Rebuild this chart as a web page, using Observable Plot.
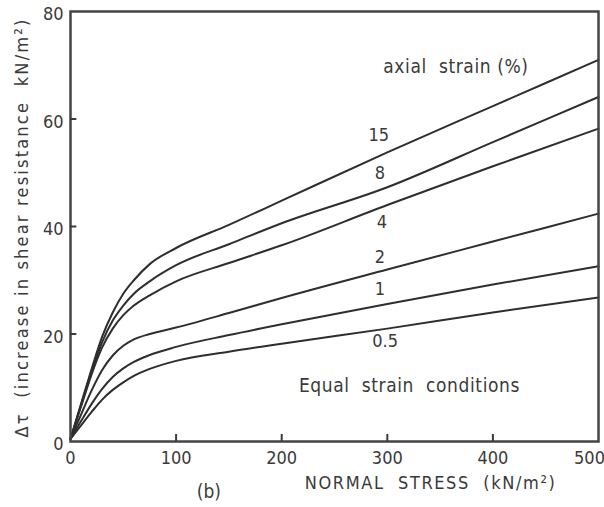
<!DOCTYPE html>
<html>
<head>
<meta charset="utf-8">
<script src="https://cdn.jsdelivr.net/npm/d3@7"></script>
<script src="https://cdn.jsdelivr.net/npm/@observablehq/plot@0.6"></script>
<style>
  html, body { margin: 0; padding: 0; background: #fff; }
  #chart svg { display: block; }
</style>
</head>
<body>
<div id="chart"></div>
<script>
const stress = [0, 10, 20, 30, 40, 50, 60, 75, 100, 150, 200, 300, 400, 500];
const s15  = [0.5, 7, 13.5, 19.5, 24, 27.5, 30, 33, 36, 40.3, 44.8, 53.8, 62.4, 71];
const s8   = [0.5, 6.8, 13, 18.5, 22.5, 25.3, 27.5, 29.8, 32.8, 36.7, 40.6, 47.3, 55.7, 64.1];
const s4   = [0.5, 6.5, 12.5, 17.5, 21, 23.5, 25.3, 27.2, 29.8, 33.2, 36.5, 44, 51.2, 58.2];
const s2   = [0.5, 5, 9.5, 13.3, 16, 17.8, 19, 20, 21.2, 23.9, 26.7, 32, 37.2, 42.4];
const s1   = [0.5, 3.8, 7, 9.8, 12, 13.6, 14.8, 16.1, 17.6, 19.8, 21.8, 25.6, 29.2, 32.6];
const s05  = [0.5, 3, 5.5, 7.8, 9.6, 11, 12.2, 13.5, 15, 16.7, 18.2, 21, 24, 26.8];

const seriesNames = ["15", "8", "4", "2", "1", "0.5"];
const seriesValues = [s15, s8, s4, s2, s1, s05];

const xTicks = [0, 100, 200, 300, 400];
const xLastTick = [500];
const xInnerTicks = [100, 200, 300, 400];
const yTicks = [0, 20, 40, 60, 80];
const yInnerTicks = [20, 40, 60];

// curve labels: [text, stress, value]
const curveLabels = [
  ["15", 292, 56.9],
  ["8", 293, 50.0],
  ["4", 295, 40.8],
  ["2", 293, 34.3],
  ["1", 293, 28.3],
  ["0.5", 298, 18.6]
];
const notesTexts = ["axial  strain (%)", "Equal  strain  conditions"];
const notesX = [365, 321];
const notesY = [69.7, 10.3];
const bText = "(b)";
const xLabelText = "NORMAL  STRESS  (kN/m²)";
const yLabelText = "Δτ  (increase in shear resistance  kN/m²)";

const rows = seriesNames.flatMap((name, i) =>
  stress.map((s, j) => ({series: name, x: s, y: seriesValues[i][j]}))
);
const labelRows = curveLabels.map(([text, x, y]) => ({text, x, y}));
const notes = notesTexts.map((text, i) => ({text, x: notesX[i], y: notesY[i]}));
const outer = [
  {text: bText, x: 131, y: -9.3},
  {text: xLabelText, x: 341, y: -7.7}
];
const yLab = [{text: yLabelText, x: -45.5, y: 39.8}];
const xTickRows = xInnerTicks.map(v => ({x: v}));
const yTickRows = yInnerTicks.map(v => ({y: v}));

const ink = "#3a3a3a";
const font = "'DejaVu Sans Condensed', 'DejaVu Sans', sans-serif";

const chart = Plot.plot({
  width: 604,
  height: 507,
  marginLeft: 70,
  marginRight: 6,
  marginTop: 11,
  marginBottom: 66,
  style: {fontFamily: font, color: ink, background: "#fff", overflow: "visible"},
  x: {domain: [0, 500]},
  y: {domain: [0, 80]},
  marks: [
    Plot.axisX({ticks: xTicks, tickSize: 0, tickPadding: 10, fontSize: 18, label: null, fill: ink}),
    Plot.axisX({ticks: xLastTick, tickSize: 0, tickPadding: 10, fontSize: 18, label: null, fill: ink, dx: -9}),
    Plot.axisY({ticks: yTicks, tickSize: 0, tickPadding: 7, fontSize: 18, label: null, fill: ink, dy: 3}),
    Plot.line(rows, {x: "x", y: "y", z: "series", stroke: "#2e2e2e", strokeWidth: 2, curve: "monotone-x"}),
    Plot.frame({stroke: "#444", strokeWidth: 2.5}),
    Plot.ruleX(xTickRows, {x: "x", y1: 0, y2: 1.3, stroke: ink, strokeWidth: 2}),
    Plot.ruleY(yTickRows, {y: "y", x1: 0, x2: 6, stroke: ink, strokeWidth: 2}),
    Plot.text(labelRows, {x: "x", y: "y", text: "text", fontSize: 18, fill: ink}),
    Plot.text(notes, {x: "x", y: "y", text: "text", fontSize: 19, fill: ink}),
    Plot.text(outer.slice(0, 1), {x: "x", y: "y", text: "text", fontSize: 19, fill: ink, clip: false}),
    Plot.text(outer.slice(1), {x: "x", y: "y", text: "text", fontSize: 18, fill: ink, clip: false}),
    Plot.text(yLab, {x: "x", y: "y", text: "text", rotate: -90, fontSize: 18, fill: ink, clip: false})
  ]
});
document.getElementById("chart").appendChild(chart);

// letter spacing applied to the rendered SVG texts
const spacing = new Map([[yLabelText, "2.2px"], [xLabelText, "1.6px"], [notesTexts[0], "0.6px"], [notesTexts[1], "0.6px"]]);
d3.select(chart).selectAll("text").each(function() {
  const t = this.textContent;
  if (spacing.has(t)) this.setAttribute("letter-spacing", spacing.get(t));
});
</script>
</body>
</html>
